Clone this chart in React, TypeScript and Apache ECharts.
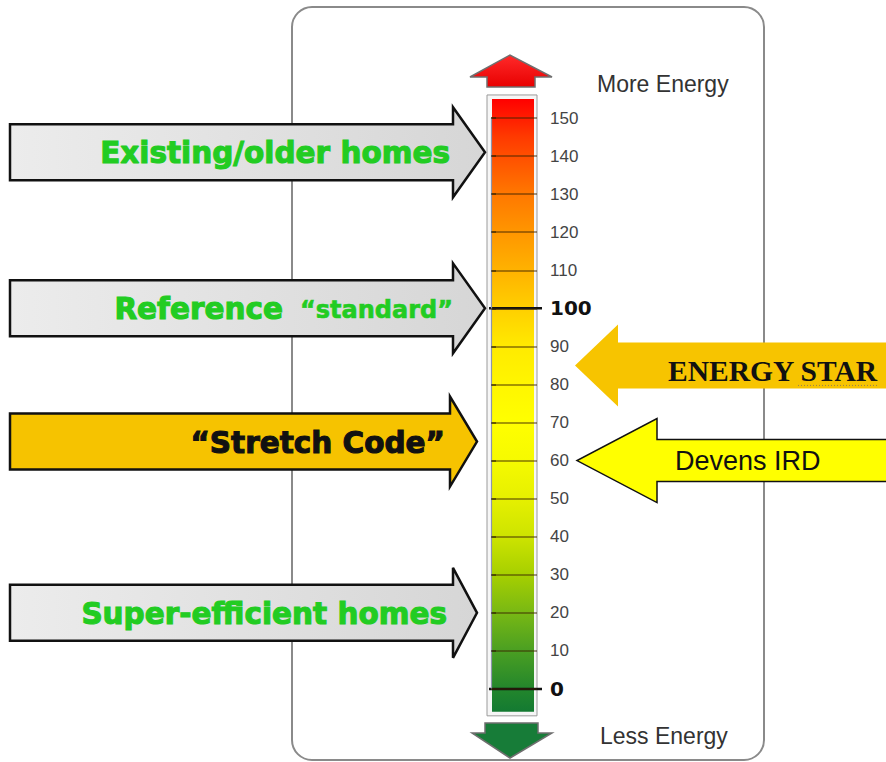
import React, { useEffect, useRef } from "react";
import * as echarts from "echarts";

// ---- data ----
const scaleMin = 0;
const scaleMax = 150;
const scaleStep = 10;
const barExtent = [-6, 155];
const boldTicks = [0, 100];
const gradientValues = [155, 145, 130, 120, 110, 100, 90, 80, 70, 60, 50, 40, 30, 20, 10, 0, -6];
const gradientColors = [
  "#ff0000", "#ff3a00", "#ff7800", "#ff9600", "#ffb200", "#ffcf00", "#ffea00", "#fff600",
  "#ffff00", "#f6fa00", "#e6f000", "#cde400", "#a6cf00", "#78b814", "#4a9f22", "#23862c", "#137a32",
];
const leftLabels = ["Existing/older homes", "Reference", "“Stretch Code”", "Super-efficient homes"];
const leftSubLabels = ["", "“standard”", "", ""];
const leftValues = [141, 100, 65, 20];
const rightLabels = ["ENERGY STAR", "Devens IRD"];
const rightValues = [85, 60];
const topLabel = "More Energy";
const bottomLabel = "Less Energy";

const greyFill = {
  type: "linear", x: 0, y: 0, x2: 1, y2: 0,
  colorStops: [{ offset: 0, color: "#ececec" }, { offset: 1, color: "#d6d6d6" }],
};

function arrowPts(yc: number, x0: number, xb: number, xt: number, sh: number, hh: number) {
  return [
    [x0, yc - sh], [xb, yc - sh], [xb, yc - hh], [xt, yc],
    [xb, yc + hh], [xb, yc + sh], [x0, yc + sh],
  ];
}

export default function App() {
  const ref = useRef<HTMLDivElement>(null);
  useEffect(() => {
    const chart = echarts.init(ref.current!, null, { renderer: "svg" });
    const span = barExtent[1] - barExtent[0];
    const stops = gradientValues.map((v, i) => ({ offset: (barExtent[1] - v) / span, color: gradientColors[i] }));
    chart.setOption({
      animation: false,
      backgroundColor: "#ffffff",
      grid: { left: 491, right: 349, top: 118, bottom: 73 },
      xAxis: { type: "value", min: 0, max: 1, show: false },
      yAxis: {
        type: "value",
        position: "right",
        min: scaleMin,
        max: scaleMax,
        interval: scaleStep,
        z: 5,
        axisLine: { show: true, lineStyle: { color: "#8d94ac", width: 1.2 } },
        axisTick: { show: true, length: 5, lineStyle: { color: "rgba(40,30,0,0.7)", width: 1.5 } },
        splitLine: { show: true, lineStyle: { color: "rgba(60,35,0,0.62)", width: 1.6 } },
        axisLabel: {
          margin: 13,
          fontFamily: "Liberation Sans",
          fontSize: 17,
          color: "#444444",
          formatter: (v: number) => (boldTicks.includes(v) ? `{b|${v}}` : `${v}`),
          rich: { b: { fontFamily: "DejaVu Sans", fontWeight: "bold", fontSize: 20, color: "#111111" } },
        },
      },
      series: [
        {
          type: "custom",
          clip: false,
          z: 2,
          data: [[barExtent[0], barExtent[1]]],
          renderItem: (params: any, api: any) => {
            const lo = api.value(0);
            const hi = api.value(1);
            const [x0, yHi] = api.coord([0, hi]);
            const [x1, yLo] = api.coord([1, lo]);
            const children: any[] = [
              {
                type: "rect",
                shape: { x: x0 - 4, y: yHi - 4, width: x1 - x0 + 4, height: yLo - yHi + 8 },
                style: { fill: "#f6f6f6", stroke: "#9a9a9a", lineWidth: 1 },
              },
              {
                type: "rect",
                shape: { x: x0 + 1, y: yHi, width: x1 - x0 - 4, height: yLo - yHi },
                style: { fill: { type: "linear", x: 0, y: 0, x2: 0, y2: 1, colorStops: stops } },
              },
            ];
            boldTicks.forEach((t) => {
              const y = api.coord([0, t])[1];
              children.push({
                type: "line",
                shape: { x1: x0 - 2, y1: y, x2: x1 + 5, y2: y },
                style: { stroke: "#111111", lineWidth: 2.5 },
              });
            });
            return { type: "group", children };
          },
        },
      ],
    });

    const py = (v: number) => chart.convertToPixel({ yAxisIndex: 0 }, v) as number;

    const leftStyle = [
      { tip: 485, base: 453, fill: greyFill, color: "#22cc22", end: 450 },
      { tip: 485, base: 453, fill: greyFill, color: "#22cc22", end: 283 },
      { tip: 477, base: 450, fill: "#f6c300", color: "#111111", end: 445 },
      { tip: 477, base: 453, fill: greyFill, color: "#22cc22", end: 447 },
    ];

    const g: any[] = [
      {
        type: "rect",
        z: 0,
        shape: { x: 292, y: 7, width: 472, height: 753, r: 20 },
        style: { fill: "#ffffff", stroke: "#8a8a8a", lineWidth: 2 },
      },
      {
        type: "polygon",
        z: 10,
        shape: { points: [[470, 77], [510, 55], [552, 77], [535, 77], [535, 87], [487, 87], [487, 77]] },
        style: {
          fill: { type: "linear", x: 0, y: 0, x2: 0, y2: 1, colorStops: [{ offset: 0, color: "#ff2a2a" }, { offset: 1, color: "#e80000" }] },
          stroke: "#6f6f6f",
          lineWidth: 1.5,
        },
      },
      {
        type: "polygon",
        z: 10,
        shape: { points: [[485, 723], [538, 723], [538, 733], [552, 733], [510, 758], [472, 733], [485, 733]] },
        style: { fill: "#177c38", stroke: "#6f6f6f", lineWidth: 1.5 },
      },
      {
        type: "text",
        z: 11,
        style: { text: topLabel, x: 597, y: 84, fill: "#333333", fontFamily: "Liberation Sans", fontSize: 23, verticalAlign: "middle" },
      },
      {
        type: "text",
        z: 11,
        style: { text: bottomLabel, x: 600, y: 736, fill: "#333333", fontFamily: "Liberation Sans", fontSize: 23, verticalAlign: "middle" },
      },
    ];

    leftValues.forEach((v, i) => {
      const s = leftStyle[i];
      const yc = py(v);
      g.push({
        type: "polygon",
        z: 10,
        shape: { points: arrowPts(yc, 10, s.base, s.tip, 28, 45) },
        style: { fill: s.fill, stroke: "#111111", lineWidth: 2.5, lineJoin: "miter" },
      });
      g.push({
        type: "text",
        z: 11,
        style: {
          text: leftLabels[i], x: s.end, y: yc + 1, align: "right", verticalAlign: "middle",
          fill: s.color, stroke: s.color, lineWidth: 1.1,
          fontFamily: "DejaVu Sans", fontWeight: "bold", fontSize: 29.5,
        },
      });
      if (leftSubLabels[i]) {
        g.push({
          type: "text",
          z: 11,
          style: {
            text: leftSubLabels[i], x: 453, y: yc + 2, align: "right", verticalAlign: "middle",
            fill: s.color, stroke: s.color, lineWidth: 0.6,
            fontFamily: "DejaVu Sans", fontWeight: "bold", fontSize: 24,
          },
        });
      }
    });

    const rightStyle = [
      { tip: 575, base: 618, sh: 23, hh: 41, fill: "#f7c400", stroke: "none", lw: 0,
        font: "Liberation Serif", size: 29.5, weight: "bold", x: 668, dy: 6 },
      { tip: 577, base: 657, sh: 21, hh: 42, fill: "#ffff00", stroke: "#111111", lw: 1.5,
        font: "Liberation Sans", size: 27, weight: "normal", x: 675, dy: 0 },
    ];
    rightValues.forEach((v, i) => {
      const s = rightStyle[i];
      const yc = py(v);
      g.push({
        type: "polygon",
        z: 10,
        shape: { points: arrowPts(yc, 892, s.base, s.tip, s.sh, s.hh) },
        style: { fill: s.fill, stroke: s.stroke, lineWidth: s.lw },
      });
      g.push({
        type: "text",
        z: 11,
        style: {
          text: rightLabels[i], x: s.x, y: yc + s.dy, verticalAlign: "middle",
          fill: "#111111", fontFamily: s.font, fontWeight: s.weight, fontSize: s.size,
        },
      });
      if (i === 0) {
        g.push({
          type: "line",
          z: 11,
          shape: { x1: 798, y1: yc + 20, x2: 877, y2: yc + 20 },
          style: { stroke: "#9a8050", lineWidth: 1, lineDash: [1, 2] },
        });
      }
    });

    chart.setOption({ graphic: g });
    return () => chart.dispose();
  }, []);
  return (
    <div
      ref={ref}
      style={{ position: "fixed", left: 0, top: 0, width: 886, height: 762, background: "#ffffff" }}
    />
  );
}
